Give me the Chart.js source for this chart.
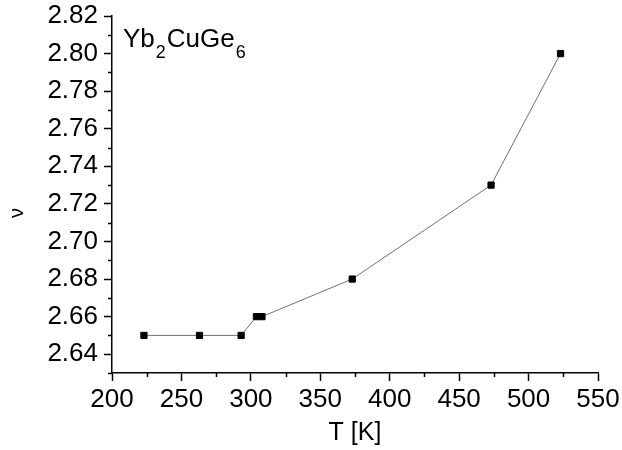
<!DOCTYPE html>
<html>
<head>
<meta charset="utf-8">
<script src="https://cdn.jsdelivr.net/npm/chart.js@4/dist/chart.umd.min.js"></script>
<style>
  html, body { margin: 0; padding: 0; background: #fff; }
  canvas { display: block; }
</style>
</head>
<body>
<canvas id="c" width="622" height="450"></canvas>
<script>
// temperature [K] and exponent nu
const temperatures = [223, 263, 293, 304, 308, 373, 473, 523];
const nuValues = [2.65, 2.65, 2.65, 2.66, 2.66, 2.68, 2.73, 2.80];

const xTicks = [200, 250, 300, 350, 400, 450, 500, 550];
const xMinorTicks = [225, 275, 325, 375, 425, 475, 525];
const yTicks = [2.64, 2.66, 2.68, 2.70, 2.72, 2.74, 2.76, 2.78, 2.80, 2.82];
const yMinorTicks = [2.63, 2.65, 2.67, 2.69, 2.71, 2.73, 2.75, 2.77, 2.79, 2.81];

const FONT = '"Liberation Sans", Arial, sans-serif';

// minor ticks, nu label and compound name
const extras = {
  id: 'extras',
  afterDraw(chart) {
    const ctx = chart.ctx;
    const area = chart.chartArea;
    const xs = chart.scales.x, ys = chart.scales.y;
    ctx.save();
    ctx.strokeStyle = '#000';
    ctx.lineWidth = 1.5;
    ctx.beginPath();
    xMinorTicks.forEach(v => {
      const px = Math.round(xs.getPixelForValue(v)) + 0.5;
      ctx.moveTo(px, area.bottom);
      ctx.lineTo(px, area.bottom + 4);
    });
    yMinorTicks.forEach(v => {
      const py = Math.round(ys.getPixelForValue(v)) + 0.5;
      ctx.moveTo(area.left, py);
      ctx.lineTo(area.left - 4, py);
    });
    ctx.stroke();

    // y title
    ctx.fillStyle = '#000';
    ctx.font = '20px ' + FONT;
    ctx.textAlign = 'center';
    ctx.textBaseline = 'middle';
    ctx.translate(17, 213);
    ctx.rotate(-Math.PI / 2);
    ctx.fillText('ν', 0, 0);
    ctx.restore();

    // Yb2CuGe6
    ctx.save();
    ctx.fillStyle = '#000';
    ctx.textAlign = 'left';
    ctx.textBaseline = 'alphabetic';
    const parts = [['Yb', false], ['2', true], ['CuGe', false], ['6', true]];
    let x = 123;
    parts.forEach(([t, sub]) => {
      ctx.font = (sub ? '18px ' : '26px ') + FONT;
      ctx.fillText(t, x, sub ? 58 : 47);
      x += ctx.measureText(t).width + 1;
    });
    ctx.restore();
  }
};

new Chart(document.getElementById('c'), {
  type: 'scatter',
  data: {
    datasets: [{
      data: temperatures.map((t, i) => ({ x: t, y: nuValues[i] })),
      showLine: true,
      borderColor: '#707070',
      borderWidth: 1,
      pointStyle: 'rect',
      pointRadius: 4.4,
      pointBorderWidth: 1,
      pointBackgroundColor: '#000',
      pointBorderColor: '#000',
      pointHoverRadius: 4.4
    }]
  },
  options: {
    responsive: false,
    animation: false,
    layout: { padding: { top: 16, right: 24, bottom: 0, left: 0 } },
    plugins: {
      legend: { display: false },
      tooltip: { enabled: false }
    },
    scales: {
      x: {
        type: 'linear',
        min: 200,
        max: 550,
        afterBuildTicks: s => { s.ticks = xTicks.map(v => ({ value: v })); },
        afterFit: s => { s.height = 77; s.paddingLeft = 0; s.paddingRight = 0; },
        grid: { drawOnChartArea: false, tickLength: 8, tickColor: '#000', tickWidth: 1.5 },
        border: { color: '#000', width: 1.5 },
        ticks: { color: '#000', padding: 3, maxRotation: 0, font: { family: FONT, size: 26 } },
        title: {
          display: true,
          text: 'T [K]',
          color: '#000',
          padding: { top: 0, bottom: 2 },
          font: { family: FONT, size: 25 }
        }
      },
      y: {
        type: 'linear',
        min: 2.63,
        max: 2.82,
        afterBuildTicks: s => { s.ticks = yTicks.map(v => ({ value: v })); },
        afterFit: s => { s.width = 112; s.paddingTop = 0; s.paddingBottom = 0; },
        grid: { drawOnChartArea: false, tickLength: 8, tickColor: '#000', tickWidth: 1.5 },
        border: { color: '#000', width: 1.5 },
        ticks: {
          color: '#000',
          padding: 6,
          font: { family: FONT, size: 26 },
          callback: v => Number(v).toFixed(2)
        }
      }
    }
  },
  plugins: [extras]
});
</script>
</body>
</html>
